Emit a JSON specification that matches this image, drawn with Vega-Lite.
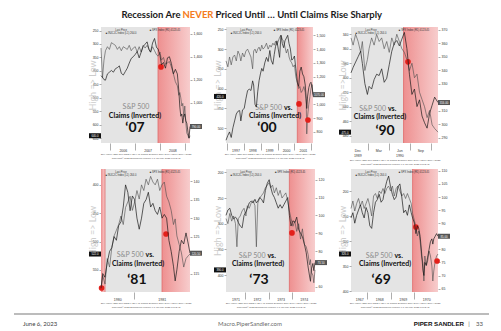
{
"$schema": "https://vega.github.io/schema/vega-lite/v6.json",
"background": "white",
"padding": {"left": 13, "top": 0, "right": 13, "bottom": 0},
"config": {
  "view": {"stroke": null},
  "font": "Lato",
  "axis": {"labelFontSize": 3.5, "labelColor": "#333", "labelFont": "Liberation Sans", "titleFont": "Liberation Sans", "tickColor": "#555", "tickWidth": 0.5, "tickSize": 2, "labelPadding": 1, "domain": false, "grid": false, "labelOverlap": false, "labelFlush": false},
  "axisX": {"tickSize": 7, "tickColor": "#777", "tickWidth": 0.6, "labelPadding": -2, "titleFontSize": 2.4, "titleColor": "#555", "titleFontWeight": "normal", "titlePadding": 1},
  "axisLeft": {"titleFont": "Lato", "titleFontSize": 9, "titleFontWeight": "normal", "titleColor": "#cdcdcd", "titleX": -4, "titleBaseline": "bottom"}
},
"datasets": {
"d07": [{"t":2005.62,"c":315,"s":1235},{"t":2005.68,"c":425,"s":1220},{"t":2005.74,"c":360,"s":1200},{"t":2005.80,"c":325,"s":1195},{"t":2005.88,"c":310,"s":1250},{"t":2005.96,"c":320,"s":1265},{"t":2006.04,"c":295,"s":1280},{"t":2006.12,"c":300,"s":1265},{"t":2006.20,"c":305,"s":1295},{"t":2006.28,"c":320,"s":1305},{"t":2006.36,"c":310,"s":1320},{"t":2006.44,"c":325,"s":1255},{"t":2006.52,"c":310,"s":1240},{"t":2006.60,"c":315,"s":1270},{"t":2006.68,"c":320,"s":1300},{"t":2006.76,"c":305,"s":1345},{"t":2006.84,"c":325,"s":1385},{"t":2006.92,"c":315,"s":1400},{"t":2007.00,"c":310,"s":1420},{"t":2007.08,"c":330,"s":1445},{"t":2007.16,"c":310,"s":1390},{"t":2007.24,"c":330,"s":1440},{"t":2007.32,"c":305,"s":1490},{"t":2007.40,"c":315,"s":1510},{"t":2007.48,"c":305,"s":1530},{"t":2007.56,"c":320,"s":1460},{"t":2007.62,"c":330,"s":1440},{"t":2007.70,"c":310,"s":1520},{"t":2007.78,"c":325,"s":1560},{"t":2007.86,"c":340,"s":1480},{"t":2007.92,"c":345,"s":1470},{"t":2008.00,"c":330,"s":1410},{"t":2008.06,"c":360,"s":1330},{"t":2008.14,"c":350,"s":1350},{"t":2008.22,"c":375,"s":1300},{"t":2008.30,"c":370,"s":1390},{"t":2008.38,"c":365,"s":1400},{"t":2008.46,"c":385,"s":1340},{"t":2008.54,"c":410,"s":1250},{"t":2008.62,"c":440,"s":1290},{"t":2008.70,"c":455,"s":1250},{"t":2008.76,"c":490,"s":1100},{"t":2008.80,"c":480,"s":960},{"t":2008.84,"c":500,"s":880},{"t":2008.88,"c":530,"s":900},{"t":2008.92,"c":520,"s":820},{"t":2008.96,"c":570,"s":880},{"t":2009.00,"c":530,"s":900},{"t":2009.04,"c":590,"s":840},{"t":2009.08,"c":630,"s":820},{"t":2009.13,"c":640,"s":740},{"t":2009.17,"c":650,"s":690},{"t":2009.21,"c":640,"s":790}],
"d00": [{"t":1996.94,"c":330,"s":740},{"t":1997.05,"c":345,"s":775},{"t":1997.15,"c":320,"s":800},{"t":1997.25,"c":340,"s":760},{"t":1997.35,"c":320,"s":830},{"t":1997.45,"c":315,"s":880},{"t":1997.55,"c":330,"s":930},{"t":1997.65,"c":305,"s":950},{"t":1997.75,"c":315,"s":955},{"t":1997.82,"c":330,"s":880},{"t":1997.92,"c":310,"s":960},{"t":1998.02,"c":320,"s":970},{"t":1998.12,"c":305,"s":1040},{"t":1998.22,"c":300,"s":1100},{"t":1998.32,"c":310,"s":1110},{"t":1998.42,"c":320,"s":1100},{"t":1998.52,"c":350,"s":1170},{"t":1998.58,"c":305,"s":1140},{"t":1998.66,"c":300,"s":1000},{"t":1998.74,"c":310,"s":980},{"t":1998.82,"c":300,"s":1090},{"t":1998.90,"c":295,"s":1170},{"t":1998.98,"c":305,"s":1220},{"t":1999.06,"c":290,"s":1260},{"t":1999.14,"c":300,"s":1240},{"t":1999.24,"c":295,"s":1300},{"t":1999.34,"c":285,"s":1340},{"t":1999.44,"c":300,"s":1310},{"t":1999.54,"c":290,"s":1390},{"t":1999.62,"c":295,"s":1320},{"t":1999.72,"c":285,"s":1290},{"t":1999.80,"c":290,"s":1360},{"t":1999.88,"c":280,"s":1420},{"t":1999.96,"c":290,"s":1460},{"t":2000.04,"c":280,"s":1400},{"t":2000.12,"c":270,"s":1340},{"t":2000.20,"c":265,"s":1500},{"t":2000.28,"c":275,"s":1440},{"t":2000.36,"c":280,"s":1410},{"t":2000.44,"c":295,"s":1460},{"t":2000.52,"c":310,"s":1480},{"t":2000.60,"c":300,"s":1500},{"t":2000.68,"c":320,"s":1440},{"t":2000.76,"c":330,"s":1400},{"t":2000.84,"c":335,"s":1320},{"t":2000.92,"c":345,"s":1330},{"t":2001.00,"c":340,"s":1350},{"t":2001.08,"c":370,"s":1260},{"t":2001.17,"c":385,"s":1160},{"t":2001.25,"c":400,"s":1130},{"t":2001.32,"c":395,"s":1240},{"t":2001.40,"c":410,"s":1270},{"t":2001.48,"c":405,"s":1220},{"t":2001.56,"c":395,"s":1200},{"t":2001.64,"c":410,"s":1140},{"t":2001.70,"c":440,"s":1040},{"t":2001.73,"c":515,"s":970},{"t":2001.78,"c":470,"s":1060},{"t":2001.85,"c":440,"s":1120},{"t":2001.92,"c":420,"s":1150},{"t":2001.98,"c":400,"s":1160},{"t":2002.05,"c":390,"s":1120},{"t":2002.10,"c":420,"s":1070}],
"d90": [{"t":1989.885,"c":345,"s":338},{"t":1989.91,"c":355,"s":342},{"t":1989.94,"c":340,"s":346},{"t":1989.97,"c":350,"s":350},{"t":1990.00,"c":365,"s":354},{"t":1990.02,"c":350,"s":345},{"t":1990.05,"c":390,"s":330},{"t":1990.08,"c":375,"s":322},{"t":1990.10,"c":360,"s":328},{"t":1990.13,"c":345,"s":326},{"t":1990.16,"c":355,"s":333},{"t":1990.19,"c":340,"s":337},{"t":1990.22,"c":350,"s":336},{"t":1990.25,"c":345,"s":341},{"t":1990.28,"c":360,"s":331},{"t":1990.31,"c":350,"s":334},{"t":1990.34,"c":365,"s":344},{"t":1990.37,"c":345,"s":354},{"t":1990.40,"c":355,"s":360},{"t":1990.43,"c":340,"s":362},{"t":1990.46,"c":350,"s":358},{"t":1990.49,"c":360,"s":363},{"t":1990.52,"c":365,"s":368},{"t":1990.55,"c":375,"s":356},{"t":1990.58,"c":390,"s":337},{"t":1990.61,"c":380,"s":322},{"t":1990.64,"c":400,"s":326},{"t":1990.67,"c":395,"s":313},{"t":1990.70,"c":420,"s":318},{"t":1990.73,"c":430,"s":306},{"t":1990.76,"c":440,"s":301},{"t":1990.79,"c":455,"s":297},{"t":1990.82,"c":445,"s":308},{"t":1990.85,"c":465,"s":314},{"t":1990.88,"c":470,"s":320},{"t":1990.92,"c":475,"s":316}],
"d81": [{"t":1980.43,"c":585,"s":111},{"t":1980.46,"c":560,"s":115},{"t":1980.50,"c":575,"s":114},{"t":1980.54,"c":530,"s":118},{"t":1980.58,"c":545,"s":121},{"t":1980.62,"c":510,"s":122},{"t":1980.66,"c":490,"s":125},{"t":1980.70,"c":480,"s":124},{"t":1980.74,"c":470,"s":128},{"t":1980.78,"c":455,"s":129},{"t":1980.82,"c":470,"s":133},{"t":1980.86,"c":440,"s":139},{"t":1980.90,"c":430,"s":137},{"t":1980.94,"c":420,"s":132},{"t":1980.98,"c":445,"s":136},{"t":1981.02,"c":430,"s":135},{"t":1981.06,"c":410,"s":130},{"t":1981.10,"c":425,"s":127},{"t":1981.14,"c":400,"s":130},{"t":1981.18,"c":410,"s":134},{"t":1981.22,"c":390,"s":135},{"t":1981.26,"c":400,"s":137},{"t":1981.30,"c":385,"s":133},{"t":1981.34,"c":395,"s":134},{"t":1981.38,"c":400,"s":132},{"t":1981.42,"c":390,"s":131},{"t":1981.46,"c":410,"s":133},{"t":1981.50,"c":400,"s":130},{"t":1981.54,"c":395,"s":131},{"t":1981.58,"c":420,"s":130},{"t":1981.62,"c":430,"s":124},{"t":1981.66,"c":445,"s":121},{"t":1981.70,"c":470,"s":117},{"t":1981.73,"c":460,"s":113},{"t":1981.76,"c":490,"s":116},{"t":1981.80,"c":505,"s":121},{"t":1981.84,"c":520,"s":124},{"t":1981.88,"c":545,"s":123},{"t":1981.92,"c":530,"s":126},{"t":1981.96,"c":525,"s":123},{"t":1981.99,"c":522,"s":120.5}],
"d73": [{"t":1971.20,"c":290,"s":100},{"t":1971.28,"c":300,"s":103},{"t":1971.36,"c":280,"s":104},{"t":1971.44,"c":295,"s":100},{"t":1971.52,"c":285,"s":98},{"t":1971.60,"c":300,"s":99},{"t":1971.66,"c":345,"s":98},{"t":1971.72,"c":290,"s":96},{"t":1971.80,"c":285,"s":94},{"t":1971.88,"c":275,"s":93},{"t":1971.96,"c":270,"s":100},{"t":1972.04,"c":285,"s":102},{"t":1972.10,"c":265,"s":104},{"t":1972.18,"c":270,"s":107},{"t":1972.26,"c":260,"s":108},{"t":1972.34,"c":255,"s":107},{"t":1972.42,"c":265,"s":109},{"t":1972.48,"c":345,"s":107},{"t":1972.54,"c":260,"s":108},{"t":1972.62,"c":250,"s":110},{"t":1972.70,"c":245,"s":109},{"t":1972.78,"c":240,"s":107},{"t":1972.86,"c":230,"s":114},{"t":1972.94,"c":225,"s":118},{"t":1973.02,"c":220,"s":120},{"t":1973.08,"c":230,"s":116},{"t":1973.16,"c":225,"s":112},{"t":1973.24,"c":240,"s":110},{"t":1973.32,"c":230,"s":107},{"t":1973.40,"c":245,"s":104},{"t":1973.48,"c":235,"s":106},{"t":1973.56,"c":250,"s":104},{"t":1973.64,"c":245,"s":106},{"t":1973.72,"c":240,"s":108},{"t":1973.80,"c":255,"s":110},{"t":1973.87,"c":275,"s":100},{"t":1973.94,"c":290,"s":94},{"t":1974.02,"c":305,"s":97},{"t":1974.10,"c":295,"s":96},{"t":1974.18,"c":315,"s":99},{"t":1974.26,"c":300,"s":92},{"t":1974.34,"c":330,"s":90},{"t":1974.42,"c":310,"s":88},{"t":1974.50,"c":340,"s":84},{"t":1974.58,"c":345,"s":79},{"t":1974.66,"c":360,"s":71},{"t":1974.72,"c":380,"s":66},{"t":1974.76,"c":370,"s":63},{"t":1974.80,"c":395,"s":70},{"t":1974.86,"c":400,"s":73},{"t":1974.90,"c":415,"s":69},{"t":1974.95,"c":390,"s":73.5}],
"d69": [{"t":1967.30,"c":235,"s":92},{"t":1967.38,"c":220,"s":94},{"t":1967.46,"c":240,"s":90},{"t":1967.54,"c":225,"s":93},{"t":1967.62,"c":215,"s":95},{"t":1967.70,"c":230,"s":97},{"t":1967.78,"c":220,"s":94},{"t":1967.86,"c":235,"s":92},{"t":1967.94,"c":225,"s":96},{"t":1968.02,"c":215,"s":94},{"t":1968.10,"c":230,"s":89},{"t":1968.18,"c":250,"s":88},{"t":1968.26,"c":210,"s":94},{"t":1968.34,"c":205,"s":98},{"t":1968.42,"c":215,"s":99},{"t":1968.50,"c":200,"s":101},{"t":1968.58,"c":205,"s":98},{"t":1968.66,"c":195,"s":99},{"t":1968.74,"c":205,"s":103},{"t":1968.82,"c":195,"s":106},{"t":1968.90,"c":190,"s":108},{"t":1968.98,"c":200,"s":104},{"t":1969.06,"c":190,"s":101},{"t":1969.14,"c":210,"s":99},{"t":1969.22,"c":195,"s":100},{"t":1969.30,"c":190,"s":104},{"t":1969.38,"c":200,"s":105},{"t":1969.46,"c":210,"s":100},{"t":1969.54,"c":205,"s":94},{"t":1969.62,"c":215,"s":95},{"t":1969.70,"c":205,"s":93},{"t":1969.78,"c":215,"s":97},{"t":1969.86,"c":225,"s":94},{"t":1969.92,"c":245,"s":92},{"t":1970.00,"c":260,"s":90},{"t":1970.06,"c":270,"s":86},{"t":1970.12,"c":290,"s":89},{"t":1970.18,"c":280,"s":88},{"t":1970.24,"c":300,"s":85},{"t":1970.30,"c":330,"s":79},{"t":1970.36,"c":345,"s":72},{"t":1970.40,"c":380,"s":70},{"t":1970.44,"c":330,"s":75},{"t":1970.50,"c":350,"s":74},{"t":1970.56,"c":340,"s":77},{"t":1970.62,"c":320,"s":80},{"t":1970.68,"c":330,"s":83},{"t":1970.74,"c":350,"s":84},{"t":1970.78,"c":380,"s":82},{"t":1970.82,"c":360,"s":84},{"t":1970.88,"c":340,"s":85},{"t":1970.94,"c":330,"s":86},{"t":1971.00,"c":326,"s":85}]
},
"concat": [
{
 "width": 89, "height": 1,
 "encoding": {
   "x": {"field": "x", "type": "quantitative", "scale": {"domain": [100, 189], "nice": false, "zero": false}, "axis": null},
   "y": {"field": "y", "type": "quantitative", "scale": {"domain": [0, 1], "reverse": true, "nice": false, "zero": false}, "axis": null}
 },
 "layer": [
  {"data": {"values": [{"x": 179.5, "y": 15, "txt": "Recession Are"}]}, "mark": {"type": "text", "align": "right", "font": "Lato", "fontSize": 9.5, "fontWeight": "bold", "color": "#1a1a1a"}, "encoding": {"text": {"field": "txt"}}},
  {"data": {"values": [{"x": 13, "x2": 488, "y": 314}]}, "mark": {"type": "rule", "color": "#7a7a7a", "strokeWidth": 1.2}, "encoding": {"x2": {"field": "x2"}}},
  {"data": {"values": [{"x": 22, "y": 324, "txt": "June 6, 2023"}]}, "mark": {"type": "text", "align": "left", "font": "Lato", "fontSize": 6, "color": "#404040"}, "encoding": {"text": {"field": "txt"}}}
 ]
},
{
 "width": 89, "height": 1,
 "encoding": {
   "x": {"field": "x", "type": "quantitative", "scale": {"domain": [225, 314], "nice": false, "zero": false}, "axis": null},
   "y": {"field": "y", "type": "quantitative", "scale": {"domain": [0, 1], "reverse": true, "nice": false, "zero": false}, "axis": null}
 },
 "layer": [
  {"data": {"values": [{"x": 197, "y": 15, "txt": "NEVER"}]}, "mark": {"type": "text", "align": "center", "font": "Lato", "fontSize": 9.5, "fontWeight": "bold", "color": "#f47b20"}, "encoding": {"text": {"field": "txt"}}},
  {"data": {"values": [{"x": 214.5, "y": 15, "txt": "Priced Until … Until Claims Rise Sharply"}]}, "mark": {"type": "text", "align": "left", "font": "Lato", "fontSize": 9.5, "fontWeight": "bold", "color": "#1a1a1a"}, "encoding": {"text": {"field": "txt"}}},
  {"data": {"values": [{"x": 249, "y": 324, "txt": "Macro.PiperSandler.com"}]}, "mark": {"type": "text", "align": "center", "font": "Lato", "fontSize": 6, "color": "#6b6b6b"}, "encoding": {"text": {"field": "txt"}}}
 ]
},
{
 "width": 87, "height": 1,
 "encoding": {
   "x": {"field": "x", "type": "quantitative", "scale": {"domain": [350, 437], "nice": false, "zero": false}, "axis": null},
   "y": {"field": "y", "type": "quantitative", "scale": {"domain": [0, 1], "reverse": true, "nice": false, "zero": false}, "axis": null}
 },
 "layer": [
  {"data": {"values": [{"x": 463, "y": 324, "txt": "PIPER SANDLER"}]}, "mark": {"type": "text", "align": "right", "font": "Liberation Sans", "fontSize": 6.2, "fontWeight": "bold", "color": "#111"}, "encoding": {"text": {"field": "txt"}}},
  {"data": {"values": [{"x": 468, "y": 324, "txt": "|"}, {"x": 478.5, "y": 324, "txt": "33"}]}, "mark": {"type": "text", "align": "center", "font": "Lato", "fontSize": 6, "color": "#555"}, "encoding": {"text": {"field": "txt"}}}
 ]
},
{
 "width": 89, "height": 116,
 "view": {"fill": "#e4e4e4", "stroke": null},
 "encoding": {"x": {"field": "t", "type": "quantitative", "scale": {"domain": [2005.62, 2009.21], "nice": false, "zero": false},
   "axis": {"values": [2006, 2006.5, 2007, 2007.5, 2008, 2008.5, 2009], "labelExpr": "datum.value % 1 == 0 ? '' : '' + floor(datum.value)", "tickOpacity": {"condition": {"test": "datum.value % 1 == 0", "value": 1}, "value": 0},
     "title": ["SPX Index (S&P 500 INDEX) SPX vs Claims Example   Daily 29MAY2004-26MAY2023", "Copyright© 2023 Bloomberg Finance L.P.                                30-May-2023 10:12:42"]}}},
 "layer": [
  {"data": {"values": [{"t": 2007.92, "t2": 2009.21}]}, "mark": {"type": "rect", "fill": {"gradient": "linear", "x1": 0, "y1": 0, "x2": 1, "y2": 0, "stops": [{"offset": 0, "color": "#ee9090"}, {"offset": 1, "color": "#f7cdcd"}]}}, "encoding": {"x2": {"field": "t2"}}},
  {"data": {"values": [{"t": 2007.92}]}, "mark": {"type": "rule", "color": "#e06a6a", "strokeWidth": 0.8}, "encoding": {}},
  {"encoding": {"y": {"field": "c", "type": "quantitative", "scale": {"domain": [237, 667], "reverse": true, "nice": false, "zero": false}, "axis": {"orient": "left", "values": [250, 300, 350, 400, 450, 500, 550, 600, 650], "title": "High => Low"}}},
   "layer": [
    {"data": {"name": "d07"}, "mark": {"type": "line", "color": "#4a4a4a", "strokeWidth": 0.6}},
    {"data": {"values": [{"t": 2008.04, "c": 385}]}, "mark": {"type": "circle", "color": "#e3201b", "size": 32, "opacity": 1}},
    {"data": {"values": [{"t": 2006.43, "c": 248.1, "txt": "Last Price"}, {"t": 2006.43, "c": 259.2, "txt": "■ INJCJC Index  (L1) 264.0"}, {"t": 2008.2, "c": 248.1, "txt": "■ SPX Index  (R1) 4123.45"}]}, "mark": {"type": "text", "font": "Liberation Sans", "fontSize": 2.6, "color": "#333"}, "encoding": {"text": {"field": "txt"}}},
    {"data": {"values": [{"t": 2007.03, "c": 533.6, "txt": "S&P 500"}]}, "mark": {"type": "text", "font": "Lato", "fontSize": 7, "color": "#8c8c8c"}, "encoding": {"text": {"field": "txt"}}},
    {"data": {"values": [{"t": 2006.99, "c": 567, "txt": "Claims (Inverted)"}]}, "mark": {"type": "text", "font": "Lato", "fontSize": 7, "fontWeight": "bold", "color": "#111"}, "encoding": {"text": {"field": "txt"}}},
    {"data": {"values": [{"t": 2006.99, "c": 611, "txt": "‘07"}]}, "mark": {"type": "text", "font": "Lato", "fontSize": 14, "fontWeight": "bold", "color": "#111"}, "encoding": {"text": {"field": "txt"}}},
    {"data": {"values": [{"t": 2005.62, "c": 640}]}, "mark": {"type": "point", "shape": "M-2.4,-1L2.4,-1L2.4,1L-2.4,1Z", "filled": true, "color": "#111", "size": 25, "opacity": 1, "xOffset": -6}},
    {"data": {"values": [{"t": 2005.62, "c": 640}]}, "mark": {"type": "text", "font": "Liberation Sans", "fontSize": 2.8, "color": "#fff", "xOffset": -6}, "encoding": {"text": {"field": "c", "format": ".1f"}}}
   ]},
  {"encoding": {"y": {"field": "s", "type": "quantitative", "scale": {"domain": [646, 1660], "nice": false, "zero": false}, "axis": {"orient": "right", "values": [1000, 1200, 1400, 1600], "title": null}}},
   "layer": [
    {"data": {"name": "d07"}, "mark": {"type": "line", "color": "#1a1a1a", "strokeWidth": 0.7}},
    {"data": {"values": [{"t": 2009.21, "s": 790}]}, "mark": {"type": "point", "shape": "M-2.4,-1L2.4,-1L2.4,1L-2.4,1Z", "filled": true, "color": "#555", "size": 25, "opacity": 1, "xOffset": 6}},
    {"data": {"values": [{"t": 2009.21, "s": 790}]}, "mark": {"type": "text", "font": "Liberation Sans", "fontSize": 2.8, "color": "#fff", "xOffset": 6}, "encoding": {"text": {"field": "s", "format": ".2f"}}}
   ]}
 ],
 "resolve": {"scale": {"y": "independent"}}
},
{
 "width": 87, "height": 116,
 "view": {"fill": "#e4e4e4", "stroke": null},
 "encoding": {"x": {"field": "t", "type": "quantitative", "scale": {"domain": [1996.94, 2002.1], "nice": false, "zero": false},
   "axis": {"values": [1997, 1997.5, 1998, 1998.5, 1999, 1999.5, 2000, 2000.5, 2001, 2001.5, 2002], "labelExpr": "datum.value % 1 == 0 ? '' : '' + floor(datum.value)", "tickOpacity": {"condition": {"test": "datum.value % 1 == 0", "value": 1}, "value": 0},
     "title": ["SPX Index (S&P 500 INDEX) SPX vs Claims Example   Daily 29MAY2004-26MAY2023", "Copyright© 2023 Bloomberg Finance L.P.                                30-May-2023 10:12:42"]}}},
 "layer": [
  {"data": {"values": [{"t": 2001.17, "t2": 2002.1}]}, "mark": {"type": "rect", "fill": {"gradient": "linear", "x1": 0, "y1": 0, "x2": 1, "y2": 0, "stops": [{"offset": 0, "color": "#ee9090"}, {"offset": 1, "color": "#f7cdcd"}]}}, "encoding": {"x2": {"field": "t2"}}},
  {"data": {"values": [{"t": 2001.17}]}, "mark": {"type": "rule", "color": "#e06a6a", "strokeWidth": 0.8}, "encoding": {}},
  {"encoding": {"y": {"field": "c", "type": "quantitative", "scale": {"domain": [244, 538], "reverse": true, "nice": false, "zero": false}, "axis": {"orient": "left", "values": [250, 300, 350, 400, 450, 500], "title": "High => Low"}}},
   "layer": [
    {"data": {"name": "d00"}, "mark": {"type": "line", "color": "#4a4a4a", "strokeWidth": 0.6}},
    {"data": {"values": [{"t": 2001.27, "c": 439}, {"t": 2001.8, "c": 479.7}]}, "mark": {"type": "circle", "color": "#e3201b", "size": 32, "opacity": 1}},
    {"data": {"values": [{"t": 1998.13, "c": 251.6, "txt": "Last Price"}, {"t": 1998.13, "c": 259.2, "txt": "■ INJCJC Index  (L1) 264.0"}, {"t": 2000.68, "c": 251.6, "txt": "■ SPX Index  (R1) 4123.45"}]}, "mark": {"type": "text", "font": "Liberation Sans", "fontSize": 2.6, "color": "#333"}, "encoding": {"text": {"field": "txt"}}},
    {"data": {"values": [{"t": 2000.32, "c": 449, "txt": "S&P 500"}]}, "mark": {"type": "text", "align": "right", "dx": -1, "font": "Lato", "fontSize": 7, "color": "#8c8c8c"}, "encoding": {"text": {"field": "txt"}}},
    {"data": {"values": [{"t": 2000.32, "c": 449, "txt": "vs."}]}, "mark": {"type": "text", "align": "left", "dx": 1, "font": "Lato", "fontSize": 7, "fontWeight": "bold", "color": "#111"}, "encoding": {"text": {"field": "txt"}}},
    {"data": {"values": [{"t": 1999.85, "c": 469.6, "txt": "Claims (Inverted)"}]}, "mark": {"type": "text", "font": "Lato", "fontSize": 7, "fontWeight": "bold", "color": "#111"}, "encoding": {"text": {"field": "txt"}}},
    {"data": {"values": [{"t": 1999.37, "c": 500, "txt": "‘00"}]}, "mark": {"type": "text", "font": "Lato", "fontSize": 14, "fontWeight": "bold", "color": "#111"}, "encoding": {"text": {"field": "txt"}}},
    {"data": {"values": [{"t": 1996.94, "c": 420}]}, "mark": {"type": "point", "shape": "M-2.4,-1L2.4,-1L2.4,1L-2.4,1Z", "filled": true, "color": "#111", "size": 25, "opacity": 1, "xOffset": -6}},
    {"data": {"values": [{"t": 1996.94, "c": 420}]}, "mark": {"type": "text", "font": "Liberation Sans", "fontSize": 2.8, "color": "#fff", "xOffset": -6}, "encoding": {"text": {"field": "c", "format": ".1f"}}}
   ]},
  {"encoding": {"y": {"field": "s", "type": "quantitative", "scale": {"domain": [720, 1560], "nice": false, "zero": false}, "axis": {"orient": "right", "values": [800, 900, 1000, 1200, 1300, 1400, 1500], "title": null}}},
   "layer": [
    {"data": {"name": "d00"}, "mark": {"type": "line", "color": "#1a1a1a", "strokeWidth": 0.7}},
    {"data": {"values": [{"t": 2002.1, "s": 1070}]}, "mark": {"type": "point", "shape": "M-2.4,-1L2.4,-1L2.4,1L-2.4,1Z", "filled": true, "color": "#555", "size": 25, "opacity": 1, "xOffset": 6}},
    {"data": {"values": [{"t": 2002.1, "s": 1070}]}, "mark": {"type": "text", "font": "Liberation Sans", "fontSize": 2.8, "color": "#fff", "xOffset": 6}, "encoding": {"text": {"field": "s", "format": ".2f"}}}
   ]}
 ],
 "resolve": {"scale": {"y": "independent"}}
},
{
 "width": 87, "height": 116,
 "view": {"fill": "#e4e4e4", "stroke": null},
 "encoding": {"x": {"field": "t", "type": "quantitative", "scale": {"domain": [1989.885, 1990.92], "nice": false, "zero": false},
   "axis": {"values": [1989.96, 1990.083, 1990.21, 1990.333, 1990.46, 1990.583, 1990.71, 1990.833], "labelExpr": "datum.value == 1989.96 ? ['Dec', '1989'] : datum.value == 1990.21 ? 'Mar' : datum.value == 1990.46 ? ['Jun', '1990'] : datum.value == 1990.71 ? 'Sep' : ''", "tickOpacity": {"condition": {"test": "indexof([1990.083, 1990.333, 1990.583, 1990.833], datum.value) >= 0", "value": 1}, "value": 0},
     "title": ["SPX Index (S&P 500 INDEX) SPX vs Claims Example   Daily 29MAY2004-26MAY2023", "Copyright© 2023 Bloomberg Finance L.P.                                30-May-2023 10:12:42"]}}},
 "layer": [
  {"data": {"values": [{"t": 1990.51, "t2": 1990.92}]}, "mark": {"type": "rect", "fill": {"gradient": "linear", "x1": 0, "y1": 0, "x2": 1, "y2": 0, "stops": [{"offset": 0, "color": "#ee9090"}, {"offset": 1, "color": "#f7cdcd"}]}}, "encoding": {"x2": {"field": "t2"}}},
  {"data": {"values": [{"t": 1990.51}]}, "mark": {"type": "rule", "color": "#e06a6a", "strokeWidth": 0.8}, "encoding": {}},
  {"encoding": {"y": {"field": "c", "type": "quantitative", "scale": {"domain": [330, 490], "reverse": true, "nice": false, "zero": false}, "axis": {"orient": "left", "values": [340, 360, 380, 400, 420, 440, 460, 480], "title": "High => Low"}}},
   "layer": [
    {"data": {"name": "d90"}, "mark": {"type": "line", "color": "#4a4a4a", "strokeWidth": 0.6}},
    {"data": {"values": [{"t": 1990.563, "c": 378}]}, "mark": {"type": "circle", "color": "#e3201b", "size": 32, "opacity": 1}},
    {"data": {"values": [{"t": 1990.123, "c": 334.1, "txt": "Last Price"}, {"t": 1990.123, "c": 338.3, "txt": "■ INJCJC Index  (L1) 264.0"}, {"t": 1990.635, "c": 334.1, "txt": "■ SPX Index  (R1) 4123.45"}]}, "mark": {"type": "text", "font": "Liberation Sans", "fontSize": 2.6, "color": "#333"}, "encoding": {"text": {"field": "txt"}}},
    {"data": {"values": [{"t": 1990.313, "c": 443, "txt": "S&P 500"}]}, "mark": {"type": "text", "align": "right", "dx": -1, "font": "Lato", "fontSize": 7, "color": "#8c8c8c"}, "encoding": {"text": {"field": "txt"}}},
    {"data": {"values": [{"t": 1990.313, "c": 443, "txt": "vs."}]}, "mark": {"type": "text", "align": "left", "dx": 1, "font": "Lato", "fontSize": 7, "fontWeight": "bold", "color": "#111"}, "encoding": {"text": {"field": "txt"}}},
    {"data": {"values": [{"t": 1990.23, "c": 454, "txt": "Claims (Inverted)"}]}, "mark": {"type": "text", "font": "Lato", "fontSize": 7, "fontWeight": "bold", "color": "#111"}, "encoding": {"text": {"field": "txt"}}},
    {"data": {"values": [{"t": 1990.29, "c": 473, "txt": "‘90"}]}, "mark": {"type": "text", "font": "Lato", "fontSize": 14, "fontWeight": "bold", "color": "#111"}, "encoding": {"text": {"field": "txt"}}},
    {"data": {"values": [{"t": 1989.885, "c": 475}]}, "mark": {"type": "point", "shape": "M-2.4,-1L2.4,-1L2.4,1L-2.4,1Z", "filled": true, "color": "#111", "size": 25, "opacity": 1, "xOffset": -6}},
    {"data": {"values": [{"t": 1989.885, "c": 475}]}, "mark": {"type": "text", "font": "Liberation Sans", "fontSize": 2.8, "color": "#fff", "xOffset": -6}, "encoding": {"text": {"field": "c", "format": ".1f"}}}
   ]},
  {"encoding": {"y": {"field": "s", "type": "quantitative", "scale": {"domain": [286, 372], "nice": false, "zero": false}, "axis": {"orient": "right", "values": [290, 300, 310, 330, 340, 350, 360, 370], "title": null}}},
   "layer": [
    {"data": {"name": "d90"}, "mark": {"type": "line", "color": "#1a1a1a", "strokeWidth": 0.7}},
    {"data": {"values": [{"t": 1990.92, "s": 316}]}, "mark": {"type": "point", "shape": "M-2.4,-1L2.4,-1L2.4,1L-2.4,1Z", "filled": true, "color": "#555", "size": 25, "opacity": 1, "xOffset": 6}},
    {"data": {"values": [{"t": 1990.92, "s": 316}]}, "mark": {"type": "text", "font": "Liberation Sans", "fontSize": 2.8, "color": "#fff", "xOffset": 6}, "encoding": {"text": {"field": "s", "format": ".2f"}}}
   ]}
 ],
 "resolve": {"scale": {"y": "independent"}}
},
{
 "width": 89, "height": 123,
 "view": {"fill": "#e4e4e4", "stroke": null},
 "encoding": {"x": {"field": "t", "type": "quantitative", "scale": {"domain": [1980.43, 1981.99], "nice": false, "zero": false},
   "axis": {"values": [1980.715, 1981, 1981.495], "labelExpr": "datum.value % 1 == 0 ? '' : '' + floor(datum.value)", "tickOpacity": {"condition": {"test": "datum.value % 1 == 0", "value": 1}, "value": 0},
     "title": ["SPX Index (S&P 500 INDEX) SPX vs Claims Example   Daily 29MAY2004-26MAY2023", "Copyright© 2023 Bloomberg Finance L.P.                                30-May-2023 10:12:42"]}}},
 "layer": [
  {"data": {"values": [{"t": 1980.43, "t2": 1980.5}, {"t": 1981.5, "t2": 1981.99}]}, "mark": {"type": "rect", "fill": {"gradient": "linear", "x1": 0, "y1": 0, "x2": 1, "y2": 0, "stops": [{"offset": 0, "color": "#ee9090"}, {"offset": 1, "color": "#f7cdcd"}]}}, "encoding": {"x2": {"field": "t2"}}},
  {"data": {"values": [{"t": 1980.5}, {"t": 1981.5}]}, "mark": {"type": "rule", "color": "#e06a6a", "strokeWidth": 0.8}, "encoding": {}},
  {"encoding": {"y": {"field": "c", "type": "quantitative", "scale": {"domain": [372, 589], "reverse": true, "nice": false, "zero": false}, "axis": {"orient": "left", "values": [400, 450, 500, 550], "title": "High => Low"}}},
   "layer": [
    {"data": {"name": "d81"}, "mark": {"type": "line", "color": "#4a4a4a", "strokeWidth": 0.6}},
    {"data": {"values": [{"t": 1980.44, "c": 582}, {"t": 1981.57, "c": 486.7}]}, "mark": {"type": "circle", "color": "#e3201b", "size": 32, "opacity": 1}},
    {"data": {"values": [{"t": 1980.78, "c": 377.3, "txt": "Last Price"}, {"t": 1980.78, "c": 382.6, "txt": "■ INJCJC Index  (L1) 264.0"}, {"t": 1981.55, "c": 377.3, "txt": "■ SPX Index  (R1) 4123.45"}]}, "mark": {"type": "text", "font": "Liberation Sans", "fontSize": 2.6, "color": "#333"}, "encoding": {"text": {"field": "txt"}}},
    {"data": {"values": [{"t": 1981.193, "c": 523.7, "txt": "S&P 500"}]}, "mark": {"type": "text", "align": "right", "dx": -1, "font": "Lato", "fontSize": 7, "color": "#8c8c8c"}, "encoding": {"text": {"field": "txt"}}},
    {"data": {"values": [{"t": 1981.193, "c": 523.7, "txt": "vs."}]}, "mark": {"type": "text", "align": "left", "dx": 1, "font": "Lato", "fontSize": 7, "fontWeight": "bold", "color": "#111"}, "encoding": {"text": {"field": "txt"}}},
    {"data": {"values": [{"t": 1981.08, "c": 539.6, "txt": "Claims (Inverted)"}]}, "mark": {"type": "text", "font": "Lato", "fontSize": 7, "fontWeight": "bold", "color": "#111"}, "encoding": {"text": {"field": "txt"}}},
    {"data": {"values": [{"t": 1981.06, "c": 567.8, "txt": "‘81"}]}, "mark": {"type": "text", "font": "Lato", "fontSize": 14, "fontWeight": "bold", "color": "#111"}, "encoding": {"text": {"field": "txt"}}},
    {"data": {"values": [{"t": 1980.43, "c": 522}]}, "mark": {"type": "point", "shape": "M-2.4,-1L2.4,-1L2.4,1L-2.4,1Z", "filled": true, "color": "#111", "size": 25, "opacity": 1, "xOffset": -6}},
    {"data": {"values": [{"t": 1980.43, "c": 522}]}, "mark": {"type": "text", "font": "Liberation Sans", "fontSize": 2.8, "color": "#fff", "xOffset": -6}, "encoding": {"text": {"field": "c", "format": ".1f"}}}
   ]},
  {"encoding": {"y": {"field": "s", "type": "quantitative", "scale": {"domain": [110, 143.3], "nice": false, "zero": false}, "axis": {"orient": "right", "values": [115, 125, 130, 135, 140], "title": null}}},
   "layer": [
    {"data": {"name": "d81"}, "mark": {"type": "line", "color": "#1a1a1a", "strokeWidth": 0.7}},
    {"data": {"values": [{"t": 1981.99, "s": 120.5}]}, "mark": {"type": "point", "shape": "M-2.4,-1L2.4,-1L2.4,1L-2.4,1Z", "filled": true, "color": "#555", "size": 25, "opacity": 1, "xOffset": 6}},
    {"data": {"values": [{"t": 1981.99, "s": 120.5}]}, "mark": {"type": "text", "font": "Liberation Sans", "fontSize": 2.8, "color": "#fff", "xOffset": 6}, "encoding": {"text": {"field": "s", "format": ".2f"}}}
   ]}
 ],
 "resolve": {"scale": {"y": "independent"}}
},
{
 "width": 89, "height": 123,
 "view": {"fill": "#e4e4e4", "stroke": null},
 "encoding": {"x": {"field": "t", "type": "quantitative", "scale": {"domain": [1971.2, 1974.95], "nice": false, "zero": false},
   "axis": {"values": [1971.6, 1972, 1972.5, 1973, 1973.5, 1974, 1974.475], "labelExpr": "datum.value % 1 == 0 ? '' : '' + floor(datum.value)", "tickOpacity": {"condition": {"test": "datum.value % 1 == 0", "value": 1}, "value": 0},
     "title": ["SPX Index (S&P 500 INDEX) SPX vs Claims Example   Daily 29MAY2004-26MAY2023", "Copyright© 2023 Bloomberg Finance L.P.                                30-May-2023 10:12:42"]}}},
 "layer": [
  {"data": {"values": [{"t": 1973.87, "t2": 1974.95}]}, "mark": {"type": "rect", "fill": {"gradient": "linear", "x1": 0, "y1": 0, "x2": 1, "y2": 0, "stops": [{"offset": 0, "color": "#ee9090"}, {"offset": 1, "color": "#f7cdcd"}]}}, "encoding": {"x2": {"field": "t2"}}},
  {"data": {"values": [{"t": 1973.87}]}, "mark": {"type": "rule", "color": "#e06a6a", "strokeWidth": 0.8}, "encoding": {}},
  {"encoding": {"y": {"field": "c", "type": "quantitative", "scale": {"domain": [193.5, 433], "reverse": true, "nice": false, "zero": false}, "axis": {"orient": "left", "values": [200, 250, 300, 350, 400], "title": "High => Low"}}},
   "layer": [
    {"data": {"name": "d73"}, "mark": {"type": "line", "color": "#4a4a4a", "strokeWidth": 0.6}},
    {"data": {"values": [{"t": 1973.98, "c": 318}]}, "mark": {"type": "circle", "color": "#e3201b", "size": 32, "opacity": 1}},
    {"data": {"values": [{"t": 1972.04, "c": 199.3, "txt": "Last Price"}, {"t": 1972.04, "c": 205.2, "txt": "■ INJCJC Index  (L1) 264.0"}, {"t": 1973.9, "c": 199.3, "txt": "■ SPX Index  (R1) 4123.45"}]}, "mark": {"type": "text", "font": "Liberation Sans", "fontSize": 2.6, "color": "#333"}, "encoding": {"text": {"field": "txt"}}},
    {"data": {"values": [{"t": 1972.906, "c": 362.9, "txt": "S&P 500"}]}, "mark": {"type": "text", "align": "right", "dx": -1, "font": "Lato", "fontSize": 7, "color": "#8c8c8c"}, "encoding": {"text": {"field": "txt"}}},
    {"data": {"values": [{"t": 1972.906, "c": 362.9, "txt": "vs."}]}, "mark": {"type": "text", "align": "left", "dx": 1, "font": "Lato", "fontSize": 7, "fontWeight": "bold", "color": "#111"}, "encoding": {"text": {"field": "txt"}}},
    {"data": {"values": [{"t": 1972.55, "c": 378.5, "txt": "Claims (Inverted)"}]}, "mark": {"type": "text", "font": "Lato", "fontSize": 7, "fontWeight": "bold", "color": "#111"}, "encoding": {"text": {"field": "txt"}}},
    {"data": {"values": [{"t": 1972.59, "c": 409.6, "txt": "‘73"}]}, "mark": {"type": "text", "font": "Lato", "fontSize": 14, "fontWeight": "bold", "color": "#111"}, "encoding": {"text": {"field": "txt"}}},
    {"data": {"values": [{"t": 1971.2, "c": 390}]}, "mark": {"type": "point", "shape": "M-2.4,-1L2.4,-1L2.4,1L-2.4,1Z", "filled": true, "color": "#111", "size": 25, "opacity": 1, "xOffset": -6}},
    {"data": {"values": [{"t": 1971.2, "c": 390}]}, "mark": {"type": "text", "font": "Liberation Sans", "fontSize": 2.8, "color": "#fff", "xOffset": -6}, "encoding": {"text": {"field": "c", "format": ".1f"}}}
   ]},
  {"encoding": {"y": {"field": "s", "type": "quantitative", "scale": {"domain": [57, 126], "nice": false, "zero": false}, "axis": {"orient": "right", "values": [60, 80, 90, 100, 110, 120], "title": null}}},
   "layer": [
    {"data": {"name": "d73"}, "mark": {"type": "line", "color": "#1a1a1a", "strokeWidth": 0.7}},
    {"data": {"values": [{"t": 1974.95, "s": 73.5}]}, "mark": {"type": "point", "shape": "M-2.4,-1L2.4,-1L2.4,1L-2.4,1Z", "filled": true, "color": "#555", "size": 25, "opacity": 1, "xOffset": 6}},
    {"data": {"values": [{"t": 1974.95, "s": 73.5}]}, "mark": {"type": "text", "font": "Liberation Sans", "fontSize": 2.8, "color": "#fff", "xOffset": 6}, "encoding": {"text": {"field": "s", "format": ".2f"}}}
   ]}
 ],
 "resolve": {"scale": {"y": "independent"}}
},
{
 "width": 87, "height": 123,
 "view": {"fill": "#e4e4e4", "stroke": null},
 "encoding": {"x": {"field": "t", "type": "quantitative", "scale": {"domain": [1967.3, 1971.0], "nice": false, "zero": false},
   "axis": {"values": [1967.65, 1968, 1968.5, 1969, 1969.5, 1970, 1970.5], "labelExpr": "datum.value % 1 == 0 ? '' : '' + floor(datum.value)", "tickOpacity": {"condition": {"test": "datum.value % 1 == 0", "value": 1}, "value": 0},
     "title": ["SPX Index (S&P 500 INDEX) SPX vs Claims Example   Daily 29MAY2004-26MAY2023", "Copyright© 2023 Bloomberg Finance L.P.                                30-May-2023 10:12:42"]}}},
 "layer": [
  {"data": {"values": [{"t": 1969.92, "t2": 1971.0}]}, "mark": {"type": "rect", "fill": {"gradient": "linear", "x1": 0, "y1": 0, "x2": 1, "y2": 0, "stops": [{"offset": 0, "color": "#ee9090"}, {"offset": 1, "color": "#f7cdcd"}]}}, "encoding": {"x2": {"field": "t2"}}},
  {"data": {"values": [{"t": 1969.92}]}, "mark": {"type": "rule", "color": "#e06a6a", "strokeWidth": 0.8}, "encoding": {}},
  {"encoding": {"y": {"field": "c", "type": "quantitative", "scale": {"domain": [156, 402], "reverse": true, "nice": false, "zero": false}, "axis": {"orient": "left", "values": [200, 250, 300, 350, 400], "title": "High => Low"}}},
   "layer": [
    {"data": {"name": "d69"}, "mark": {"type": "line", "color": "#4a4a4a", "strokeWidth": 0.6}},
    {"data": {"values": [{"t": 1970.06, "c": 272}, {"t": 1970.96, "c": 340}]}, "mark": {"type": "circle", "color": "#e3201b", "size": 32, "opacity": 1}},
    {"data": {"values": [{"t": 1968.15, "c": 162, "txt": "Last Price"}, {"t": 1968.15, "c": 168, "txt": "■ INJCJC Index  (L1) 264.0"}, {"t": 1969.98, "c": 162, "txt": "■ SPX Index  (R1) 4123.45"}]}, "mark": {"type": "text", "font": "Liberation Sans", "fontSize": 2.6, "color": "#333"}, "encoding": {"text": {"field": "txt"}}},
    {"data": {"values": [{"t": 1969.107, "c": 330, "txt": "S&P 500"}]}, "mark": {"type": "text", "align": "right", "dx": -1, "font": "Lato", "fontSize": 7, "color": "#8c8c8c"}, "encoding": {"text": {"field": "txt"}}},
    {"data": {"values": [{"t": 1969.107, "c": 330, "txt": "vs."}]}, "mark": {"type": "text", "align": "left", "dx": 1, "font": "Lato", "fontSize": 7, "fontWeight": "bold", "color": "#111"}, "encoding": {"text": {"field": "txt"}}},
    {"data": {"values": [{"t": 1968.75, "c": 346, "txt": "Claims (Inverted)"}]}, "mark": {"type": "text", "font": "Lato", "fontSize": 7, "fontWeight": "bold", "color": "#111"}, "encoding": {"text": {"field": "txt"}}},
    {"data": {"values": [{"t": 1968.58, "c": 378, "txt": "‘69"}]}, "mark": {"type": "text", "font": "Lato", "fontSize": 14, "fontWeight": "bold", "color": "#111"}, "encoding": {"text": {"field": "txt"}}},
    {"data": {"values": [{"t": 1967.3, "c": 326}]}, "mark": {"type": "point", "shape": "M-2.4,-1L2.4,-1L2.4,1L-2.4,1Z", "filled": true, "color": "#111", "size": 25, "opacity": 1, "xOffset": -6}},
    {"data": {"values": [{"t": 1967.3, "c": 326}]}, "mark": {"type": "text", "font": "Liberation Sans", "fontSize": 2.8, "color": "#fff", "xOffset": -6}, "encoding": {"text": {"field": "c", "format": ".1f"}}}
   ]},
  {"encoding": {"y": {"field": "s", "type": "quantitative", "scale": {"domain": [63.7, 110.7], "nice": false, "zero": false}, "axis": {"orient": "right", "values": [65, 70, 75, 80, 90, 95, 100, 105, 110], "title": null}}},
   "layer": [
    {"data": {"name": "d69"}, "mark": {"type": "line", "color": "#1a1a1a", "strokeWidth": 0.7}},
    {"data": {"values": [{"t": 1971.0, "s": 85}]}, "mark": {"type": "point", "shape": "M-2.4,-1L2.4,-1L2.4,1L-2.4,1Z", "filled": true, "color": "#555", "size": 25, "opacity": 1, "xOffset": 6}},
    {"data": {"values": [{"t": 1971.0, "s": 85}]}, "mark": {"type": "text", "font": "Liberation Sans", "fontSize": 2.8, "color": "#fff", "xOffset": 6}, "encoding": {"text": {"field": "s", "format": ".2f"}}}
   ]}
 ],
 "resolve": {"scale": {"y": "independent"}}
}
],
"columns": 3,
"spacing": {"row": 26, "column": 36},
"bounds": "flush"
}
